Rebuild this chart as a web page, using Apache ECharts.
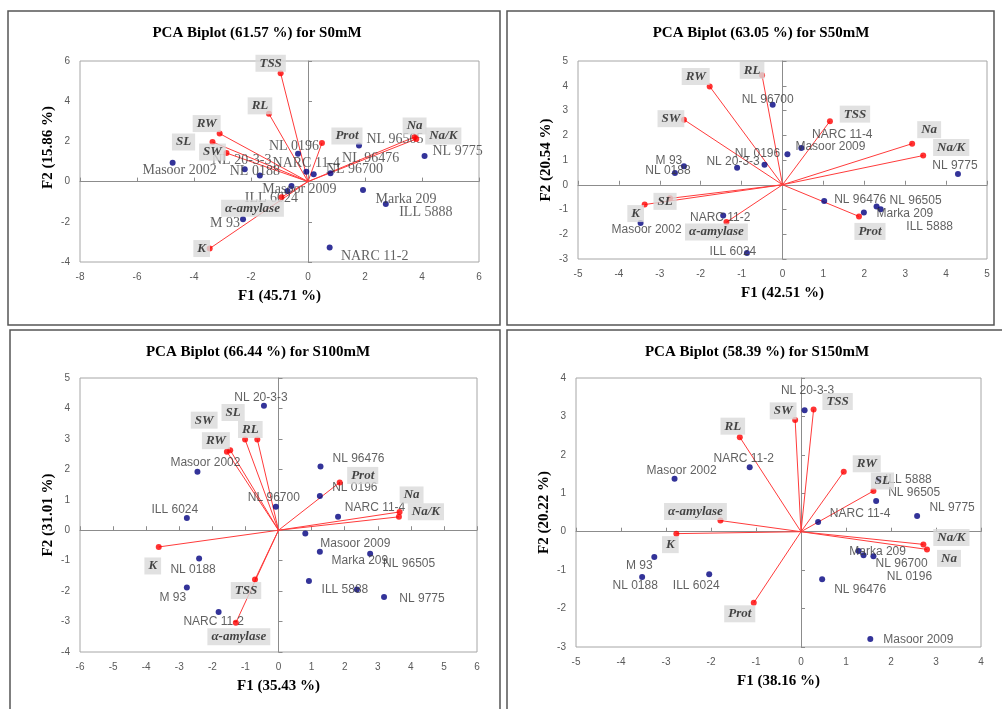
<!DOCTYPE html>
<html>
<head>
<meta charset="utf-8">
<title>PCA Biplots</title>
<script src="https://cdn.jsdelivr.net/npm/echarts@6/dist/echarts.min.js"></script>
<style>
  html, body { margin: 0; padding: 0; background: #fff; }
  #chart { width: 1002px; height: 709px; }
</style>
</head>
<body>
<div id="chart"></div>
<script>
// S0mM
const s0Names = ['Masoor 2002', 'NL 20-3-3', 'NL 0188', 'NL 0196', 'NARC 11-4', 'NL 96476', 'NL 96700', 'NL 96505', 'NL 9775', 'Masoor 2009', 'ILL 6024', 'Marka 209', 'ILL 5888', 'NARC 11-2', 'M 93'];
const s0F1 = [-4.75, -2.22, -1.69, -0.35, -0.06, 0.20, 0.79, 1.79, 4.09, -0.58, -0.72, 1.93, 2.73, 0.76, -2.28];
const s0F2 = [0.94, 0.62, 0.30, 1.39, 0.49, 0.37, 0.42, 1.80, 1.27, -0.22, -0.47, -0.42, -1.12, -3.28, -1.87];
const s0Vars = ['TSS', 'RL', 'Prot', 'Na', 'Na/K', 'RW', 'SL', 'SW', 'α-amylase', 'K'];
const s0VarF1 = [-0.96, -1.37, 0.49, 3.74, 3.80, -3.10, -3.35, -2.86, -0.93, -3.45];
const s0VarF2 = [5.39, 3.37, 1.92, 2.22, 2.12, 2.39, 1.97, 1.42, -0.78, -3.33];

// S50mM
const s50Names = ['M 93', 'NL 0188', 'NL 20-3-3', 'NL 0196', 'Masoor 2009', 'NARC 11-4', 'NL 96700', 'NL 9775', 'NL 96476', 'Marka 209', 'NL 96505', 'ILL 5888', 'NARC 11-2', 'Masoor 2002', 'ILL 6024'];
const s50F1 = [-2.41, -2.63, -1.11, -0.44, 0.12, 0.46, -0.24, 4.29, 1.02, 1.99, 2.30, 2.40, -1.45, -3.47, -0.87];
const s50F2 = [0.75, 0.47, 0.69, 0.81, 1.23, 1.48, 3.23, 0.43, -0.66, -1.12, -0.88, -0.99, -1.24, -1.55, -2.76];
const s50Vars = ['RL', 'RW', 'SW', 'SL', 'K', 'α-amylase', 'TSS', 'Na', 'Na/K', 'Prot'];
const s50VarF1 = [-0.50, -1.78, -2.41, -2.75, -3.37, -1.37, 1.16, 3.17, 3.44, 1.87];
const s50VarF2 = [4.42, 3.97, 2.63, -0.55, -0.80, -1.51, 2.57, 1.66, 1.18, -1.28];

// S100mM
const s100Names = ['Masoor 2002', 'ILL 6024', 'NL 0188', 'M 93', 'NARC 11-2', 'NL 20-3-3', 'NL 96476', 'NL 0196', 'NL 96700', 'NARC 11-4', 'Masoor 2009', 'Marka 209', 'NL 96505', 'ILL 5888', '', 'NL 9775'];
const s100F1 = [-2.45, -2.77, -2.40, -2.77, -1.81, -0.44, 1.27, 1.25, -0.08, 1.80, 0.81, 1.25, 2.77, 0.92, 2.37, 3.19];
const s100F2 = [1.92, 0.40, -0.93, -1.88, -2.69, 4.09, 2.09, 1.12, 0.77, 0.44, -0.11, -0.71, -0.77, -1.67, -1.95, -2.19];
const s100Vars = ['RW', 'SW', 'SL', 'RL', 'Prot', 'Na', 'Na/K', 'TSS', 'α-amylase', 'K'];
const s100VarF1 = [-1.56, -1.46, -1.01, -0.64, 1.85, 3.66, 3.64, -0.71, -1.29, -3.62];
const s100VarF2 = [2.58, 2.63, 2.98, 2.98, 1.57, 0.60, 0.44, -1.62, -3.04, -0.55];

// S150mM
const s150Names = ['NL 20-3-3', 'Masoor 2002', 'NARC 11-2', 'ILL 5888', 'NL 96505', 'NL 9775', 'NARC 11-4', 'M 93', 'NL 0188', 'ILL 6024', 'Marka 209', 'NL 96700', 'NL 0196', 'NL 96476', 'Masoor 2009'];
const s150F1 = [0.08, -2.81, -1.14, 1.72, 1.67, 2.58, 0.38, -3.26, -3.53, -2.04, 1.28, 1.39, 1.61, 0.47, 1.54];
const s150F2 = [3.16, 1.38, 1.68, 1.36, 0.80, 0.41, 0.25, -0.66, -1.18, -1.11, -0.50, -0.61, -0.64, -1.24, -2.79];
const s150Vars = ['TSS', 'SW', 'RL', 'RW', 'SL', 'α-amylase', 'K', 'Prot', 'Na/K', 'Na'];
const s150VarF1 = [0.28, -0.13, -1.36, 0.95, 1.61, -1.79, -2.77, -1.05, 2.72, 2.80];
const s150VarF2 = [3.18, 2.91, 2.46, 1.56, 1.06, 0.29, -0.05, -1.85, -0.33, -0.46];

// label placement (pixel shift of the label centre from its point)
const s0ObsShift = {
  'Masoor 2002': [7, 8], 'NL 20-3-3': [-3, -9], 'NL 0188': [-5, -4], 'NL 0196': [-4, -7],
  'NARC 11-4': [0, -8], 'NL 96476': [57, -16], 'NL 96700': [24, -4], 'NL 96505': [36, -6],
  'NL 9775': [33, -5], 'Masoor 2009': [8, 3], 'ILL 6024': [-16, 7], 'Marka 209': [43, 9],
  'ILL 5888': [40, 8], 'NARC 11-2': [45, 9], 'M 93': [-18, 4]
};
const s0VarShift = {
  TSS: [-10, -10], RL: [-9, -8], Prot: [25, -7], Na: [0, -11], 'Na/K': [27, -3],
  RW: [-13, -10], SL: [-29, 0], SW: [-14, -1], 'α-amylase': [-29, 11], K: [-8, 0]
};
const s50ObsShift = {
  'M 93': [-15, -6], 'NL 0188': [-7, -2], 'NL 20-3-3': [-4, -6], 'NL 0196': [-7, -11],
  'Masoor 2009': [43, -8], 'NARC 11-4': [41, -13], 'NL 96700': [-5, -5], 'NL 9775': [-3, -8],
  'NL 96476': [36, -1], 'Marka 209': [41, 1], 'NL 96505': [39, -6], 'ILL 5888': [49, 17],
  'NARC 11-2': [-3, 2], 'Masoor 2002': [6, 7], 'ILL 6024': [-14, -1]
};
const s50VarShift = {
  RL: [-10, -5], RW: [-14, -10], SW: [-13, -1], SL: [-5, 3], K: [-9, 9],
  'α-amylase': [-10, 10], TSS: [25, -7], Na: [17, -14], 'Na/K': [28, -8], Prot: [11, 15]
};
const s100ObsShift = {
  'Masoor 2002': [8, -9], 'ILL 6024': [-12, -8], 'NL 0188': [-6, 11], 'M 93': [-14, 10],
  'NARC 11-2': [-5, 10], 'NL 20-3-3': [-3, -8], 'NL 96476': [38, -8], 'NL 0196': [35, -8],
  'NL 96700': [-2, -9], 'NARC 11-4': [37, -9], 'Masoor 2009': [50, 10], 'Marka 209': [40, 9],
  'NL 96505': [39, 10], 'ILL 5888': [36, 9], 'NL 9775': [38, 2]
};
const s100VarShift = {
  RW: [-11, -11], SW: [-26, -30], SL: [-12, -27], RL: [-7, -10], Prot: [23, -7],
  Na: [12, -17], 'Na/K': [27, -5], TSS: [-9, 11], 'α-amylase': [3, 14], K: [-6, 19]
};
const s150ObsShift = {
  'NL 20-3-3': [3, -20], 'Masoor 2002': [7, -8], 'NARC 11-2': [-6, -8], 'ILL 5888': [30, 0],
  'NL 96505': [38, -8], 'NL 9775': [35, -8], 'NARC 11-4': [42, -8], 'M 93': [-15, 9],
  'NL 0188': [-7, 9], 'ILL 6024': [-13, 11], 'Marka 209': [19, 1], 'NL 96700': [38, 9],
  'NL 0196': [36, 20], 'NL 96476': [38, 10], 'Masoor 2009': [48, 1]
};
const s150VarShift = {
  TSS: [24, -8], SW: [-12, -9], RL: [-7, -11], RW: [23, -8], SL: [9, -10],
  'α-amylase': [-25, -9], K: [-6, 11], Prot: [-14, 11], 'Na/K': [28, -7], Na: [22, 9]
};

const SERIF = '"Liberation Serif", "DejaVu Serif", serif';
const SANS = '"Liberation Sans", Arial, sans-serif';

const panels = [
  {
    title: 'PCA Biplot (61.57 %) for S0mM', xName: 'F1 (45.71 %)', yName: 'F2 (15.86 %)',
    names: s0Names, f1: s0F1, f2: s0F2, vars: s0Vars, vf1: s0VarF1, vf2: s0VarF2,
    obsShift: s0ObsShift, varShift: s0VarShift, obsFont: SERIF, obsSize: 14,
    xMin: -8, xMax: 6, xStep: 2, yMin: -4, yMax: 6, yStep: 2,
    grid: { left: 80, top: 61, width: 399, height: 201 }, titleAt: [257, 33],
    frame: [8, 11, 492, 314], yNamePad: [0, 0, 0, 28]
  },
  {
    title: 'PCA Biplot (63.05 %) for S50mM', xName: 'F1 (42.51 %)', yName: 'F2 (20.54 %)',
    names: s50Names, f1: s50F1, f2: s50F2, vars: s50Vars, vf1: s50VarF1, vf2: s50VarF2,
    obsShift: s50ObsShift, varShift: s50VarShift, obsFont: SANS, obsSize: 12,
    xMin: -5, xMax: 5, xStep: 1, yMin: -3, yMax: 5, yStep: 1,
    grid: { left: 578, top: 61, width: 409, height: 198 }, titleAt: [761, 33],
    frame: [507, 11, 487, 314], yNamePad: 0
  },
  {
    title: 'PCA Biplot (66.44 %) for S100mM', xName: 'F1 (35.43 %)', yName: 'F2 (31.01 %)',
    names: s100Names, f1: s100F1, f2: s100F2, vars: s100Vars, vf1: s100VarF1, vf2: s100VarF2,
    obsShift: s100ObsShift, varShift: s100VarShift, obsFont: SANS, obsSize: 12,
    xMin: -6, xMax: 6, xStep: 1, yMin: -4, yMax: 5, yStep: 1,
    grid: { left: 80, top: 378, width: 397, height: 274 }, titleAt: [258, 352],
    frame: [10, 330, 490, 390], yNamePad: 0
  },
  {
    title: 'PCA Biplot (58.39 %) for S150mM', xName: 'F1 (38.16 %)', yName: 'F2 (20.22 %)',
    names: s150Names, f1: s150F1, f2: s150F2, vars: s150Vars, vf1: s150VarF1, vf2: s150VarF2,
    obsShift: s150ObsShift, varShift: s150VarShift, obsFont: SANS, obsSize: 12,
    xMin: -5, xMax: 4, xStep: 1, yMin: -3, yMax: 4, yStep: 1,
    grid: { left: 576, top: 378, width: 405, height: 269 }, titleAt: [757, 352],
    frame: [507, 330, 500, 390], yNamePad: 0
  }
];

const grids = [];
const xAxes = [];
const yAxes = [];
const series = [];
const graphics = [];

panels.forEach((p, i) => {
  grids.push(Object.assign({
    show: true, borderColor: '#a6a6a6', borderWidth: 1,
    containLabel: false, outerBoundsMode: 'none'
  }, p.grid));

  const nameStyle = { fontFamily: SERIF, fontWeight: 'bold', fontSize: 15, color: '#000' };
  const labelAxis = {
    gridIndex: i, type: 'value',
    axisLine: { show: false, onZero: false },
    axisTick: { show: false },
    splitLine: { show: false },
    axisLabel: { fontFamily: SANS, fontSize: 10, color: '#595959', margin: 10 },
    nameLocation: 'middle'
  };
  const zeroAxis = {
    gridIndex: i, type: 'value',
    axisLine: { show: true, onZero: true, lineStyle: { color: '#8c8c8c', width: 1 } },
    axisTick: { show: true, length: 4, lineStyle: { color: '#8c8c8c' } },
    axisLabel: { show: false },
    splitLine: { show: false }
  };

  xAxes.push(Object.assign({}, labelAxis, {
    min: p.xMin, max: p.xMax, interval: p.xStep, position: 'bottom',
    name: p.xName, nameGap: 27, nameTextStyle: nameStyle
  }));
  xAxes.push(Object.assign({}, zeroAxis, {
    min: p.xMin, max: p.xMax, interval: p.xStep,
    axisLine: Object.assign({}, zeroAxis.axisLine, { onZeroAxisIndex: 2 * i })
  }));
  yAxes.push(Object.assign({}, labelAxis, {
    min: p.yMin, max: p.yMax, interval: p.yStep, position: 'left',
    name: p.yName, nameGap: 24,
    nameTextStyle: Object.assign({}, nameStyle, { padding: p.yNamePad })
  }));
  yAxes.push(Object.assign({}, zeroAxis, {
    min: p.yMin, max: p.yMax, interval: p.yStep,
    axisLine: Object.assign({}, zeroAxis.axisLine, { onZeroAxisIndex: 2 * i })
  }));

  // loading vectors
  series.push({
    type: 'lines', coordinateSystem: 'cartesian2d',
    xAxisIndex: 2 * i, yAxisIndex: 2 * i, z: 2, silent: true,
    lineStyle: { color: '#ff3b3b', width: 1, opacity: 1, curveness: 0 },
    data: p.vars.map((v, k) => ({ coords: [[0, 0], [p.vf1[k], p.vf2[k]]] }))
  });

  // genotypes
  series.push({
    type: 'scatter', xAxisIndex: 2 * i, yAxisIndex: 2 * i, z: 3,
    symbolSize: 6, itemStyle: { color: '#000080' },
    emphasis: { disabled: true },
    label: {
      show: true, position: 'inside', align: 'center', verticalAlign: 'middle',
      formatter: '{b}', fontFamily: p.obsFont, fontSize: p.obsSize, color: '#3a3a3a'
    },
    data: p.names.map((n, k) => ({
      name: n, value: [p.f1[k], p.f2[k]],
      label: { offset: p.obsShift[n] || [0, 0] }
    }))
  });

  // variables
  series.push({
    type: 'scatter', xAxisIndex: 2 * i, yAxisIndex: 2 * i, z: 4,
    symbolSize: 6, itemStyle: { color: '#ff0000' },
    emphasis: { disabled: true },
    label: {
      show: true, position: 'inside', align: 'center', verticalAlign: 'middle',
      formatter: '{b}', fontFamily: SERIF, fontStyle: 'italic', fontWeight: 'bold',
      fontSize: 13, color: '#1a1a1a', backgroundColor: '#d9d9d9', padding: [2, 4]
    },
    data: p.vars.map((v, k) => ({
      name: v, value: [p.vf1[k], p.vf2[k]],
      label: { offset: p.varShift[v] || [0, 0] }
    }))
  });

  graphics.push({
    type: 'rect', silent: true, z: 0,
    shape: { x: p.frame[0], y: p.frame[1], width: p.frame[2], height: p.frame[3] },
    style: { fill: 'none', stroke: '#555', lineWidth: 1.5 }
  });
  graphics.push({
    type: 'text', silent: true, x: p.titleAt[0], y: p.titleAt[1],
    style: {
      text: p.title, font: 'bold 15px ' + SERIF, fill: '#000',
      align: 'center', verticalAlign: 'middle', textAlign: 'center', textVerticalAlign: 'middle'
    }
  });
});

const chart = echarts.init(document.getElementById('chart'));
chart.setOption({
  backgroundColor: '#fff',
  animation: false,
  grid: grids,
  xAxis: xAxes,
  yAxis: yAxes,
  series: series,
  graphic: graphics
});
window.addEventListener('resize', () => chart.resize());
</script>
</body>
</html>
